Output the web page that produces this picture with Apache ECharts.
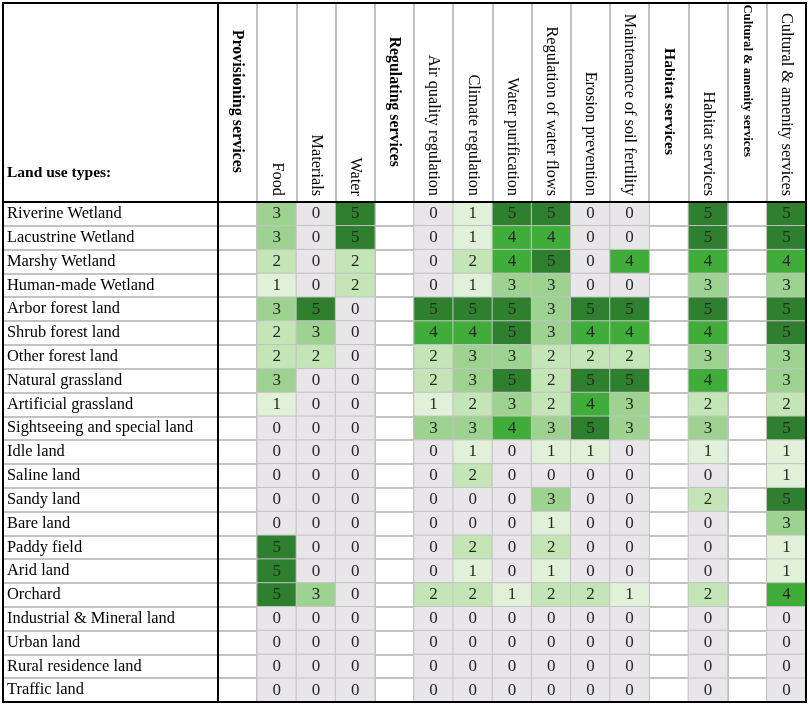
<!DOCTYPE html>
<html>
<head>
<meta charset="utf-8">
<script src="https://cdn.jsdelivr.net/npm/echarts@6/dist/echarts.min.js"></script>
<style>
  html, body { margin: 0; padding: 0; background: #fff; }
  #chart { width: 809px; height: 704px; }
</style>
</head>
<body>
<div id="chart"></div>
<script>
const landUseTypes = [
  'Riverine Wetland', 'Lacustrine Wetland', 'Marshy Wetland', 'Human-made Wetland',
  'Arbor forest land', 'Shrub forest land', 'Other forest land', 'Natural grassland',
  'Artificial grassland', 'Sightseeing and special land', 'Idle land', 'Saline land',
  'Sandy land', 'Bare land', 'Paddy field', 'Arid land', 'Orchard',
  'Industrial & Mineral land', 'Urban land', 'Rural residence land', 'Traffic land'
];

const columnLabels = [
  'Provisioning services', 'Food', 'Materials', 'Water',
  'Regulating services', 'Air quality regulation', 'Climate regulation',
  'Water purification', 'Regulation of water flows', 'Erosion prevention',
  'Maintenance of soil fertility', 'Habitat services', 'Habitat services',
  'Cultural & amenity services', 'Cultural & amenity services'
];
// group header columns (bold, no values)
const groupCols = [0, 4, 11, 13];

// scores per service, one value per land use type (top to bottom)
const food =              [3, 3, 2, 1, 3, 2, 2, 3, 1, 0, 0, 0, 0, 0, 5, 5, 5, 0, 0, 0, 0];
const materials =         [0, 0, 0, 0, 5, 3, 2, 0, 0, 0, 0, 0, 0, 0, 0, 0, 3, 0, 0, 0, 0];
const water =             [5, 5, 2, 2, 0, 0, 0, 0, 0, 0, 0, 0, 0, 0, 0, 0, 0, 0, 0, 0, 0];
const airQuality =        [0, 0, 0, 0, 5, 4, 2, 2, 1, 3, 0, 0, 0, 0, 0, 0, 2, 0, 0, 0, 0];
const climate =           [1, 1, 2, 1, 5, 4, 3, 3, 2, 3, 1, 2, 0, 0, 2, 1, 2, 0, 0, 0, 0];
const waterPurification = [5, 4, 4, 3, 5, 5, 3, 5, 3, 4, 0, 0, 0, 0, 0, 0, 1, 0, 0, 0, 0];
const waterFlows =        [5, 4, 5, 3, 3, 3, 2, 2, 2, 3, 1, 0, 3, 1, 2, 1, 2, 0, 0, 0, 0];
const erosion =           [0, 0, 0, 0, 5, 4, 2, 5, 4, 5, 1, 0, 0, 0, 0, 0, 2, 0, 0, 0, 0];
const soilFertility =     [0, 0, 4, 0, 5, 4, 2, 5, 3, 3, 0, 0, 0, 0, 0, 0, 1, 0, 0, 0, 0];
const habitat =           [5, 5, 4, 3, 5, 4, 3, 4, 2, 3, 1, 0, 2, 0, 0, 0, 2, 0, 0, 0, 0];
const cultural =          [5, 5, 4, 3, 5, 5, 3, 3, 2, 5, 1, 1, 5, 3, 1, 1, 4, 0, 0, 0, 0];

const services = [food, materials, water, airQuality, climate, waterPurification,
  waterFlows, erosion, soilFertility, habitat, cultural];
const serviceCols = [1, 2, 3, 5, 6, 7, 8, 9, 10, 12, 14];

const scoreColors = ['#e8e6e8', '#e0f0d9', '#c4e5b6', '#9dd290', '#40ad3a', '#2e7f2e'];

const serif = '"Liberation Serif", "Times New Roman", serif';
const gridGray = '#c2c2c2';
const columnKeys = columnLabels.map((_, i) => 'c' + i);

const cells = [];
serviceCols.forEach((col, k) => {
  services[k].forEach((v, row) => cells.push([col, row, v]));
});

const chart = echarts.init(document.getElementById('chart'));

// one top axis per label offset: normal labels sit on the header line,
// the bold group headers float higher up in their blank columns
function headerAxis(show, margin, style) {
  return {
    gridIndex: 2, type: 'category', position: 'top', data: columnKeys,
    axisLine: { show: false }, axisTick: { show: false },
    axisLabel: Object.assign({
      interval: 0,
      rotate: 90,
      margin: margin,
      fontFamily: serif,
      color: '#000',
      formatter: (v, i) => (show.includes(i) ? columnLabels[i] : '')
    }, style),
    splitLine: { show: false }
  };
}

const normalCols = columnLabels.map((_, i) => i).filter((i) => !groupCols.includes(i));

const option = {
  animation: false,
  backgroundColor: '#fff',
  title: {
    text: 'Land use types:',
    left: 2,
    top: 160,
    textStyle: { fontFamily: serif, fontSize: 15.5, fontWeight: 'bold', color: '#000' }
  },
  grid: [
    { left: 218, top: 3, width: 588, height: 199 },
    { left: 3, top: 202, width: 215, height: 500 },
    { left: 218, top: 202, width: 588, height: 500 }
  ],
  xAxis: [
    {
      gridIndex: 0, type: 'category', data: columnKeys,
      axisLine: { show: false }, axisTick: { show: false }, axisLabel: { show: false },
      splitLine: { show: true, interval: 0, lineStyle: { color: gridGray, width: 2 } }
    },
    { gridIndex: 1, type: 'value', show: false },
    Object.assign(headerAxis(normalCols, 6, { fontSize: 16.3 }), {
      splitLine: { show: true, interval: 0, lineStyle: { color: gridGray, width: 2 } }
    }),
    headerAxis([0], 29, { fontSize: 16, fontWeight: 'bold' }),
    headerAxis([4], 35, { fontSize: 15.8, fontWeight: 'bold' }),
    headerAxis([11], 47, { fontSize: 15.6, fontWeight: 'bold' }),
    headerAxis([13], 45, { fontSize: 12.7, fontWeight: 'bold' })
  ],
  yAxis: [
    { gridIndex: 0, type: 'value', show: false },
    {
      gridIndex: 1, type: 'category', inverse: true, data: landUseTypes,
      axisLine: { show: false }, axisTick: { show: false },
      axisLabel: {
        interval: 0, inside: true, margin: 4,
        fontFamily: serif, fontSize: 16.4, color: '#000'
      },
      splitLine: { show: true, interval: 0, lineStyle: { color: gridGray, width: 2 } }
    },
    {
      gridIndex: 2, type: 'category', inverse: true, data: landUseTypes,
      axisLine: { show: false }, axisTick: { show: false }, axisLabel: { show: false },
      splitLine: { show: true, interval: 0, lineStyle: { color: gridGray, width: 2 } }
    }
  ],
  visualMap: {
    type: 'piecewise',
    show: false,
    dimension: 2,
    seriesIndex: 0,
    pieces: scoreColors.map((c, v) => ({ value: v, color: c }))
  },
  series: [
    {
      type: 'heatmap',
      xAxisIndex: 2,
      yAxisIndex: 2,
      data: cells,
      itemStyle: { borderColor: gridGray, borderWidth: 1 },
      label: {
        show: true,
        formatter: (p) => String(p.value[2]),
        fontFamily: serif,
        fontSize: 17,
        color: '#262626'
      }
    }
  ],
  graphic: [
    { type: 'rect', z: 100, shape: { x: 3, y: 3, width: 803, height: 699 },
      style: { fill: null, stroke: '#000', lineWidth: 2 } },
    { type: 'line', z: 100, shape: { x1: 218, y1: 3, x2: 218, y2: 702 },
      style: { stroke: '#000', lineWidth: 2 } },
    { type: 'line', z: 100, shape: { x1: 3, y1: 202, x2: 806, y2: 202 },
      style: { stroke: '#000', lineWidth: 2 } }
  ]
};

chart.setOption(option);
</script>
</body>
</html>
